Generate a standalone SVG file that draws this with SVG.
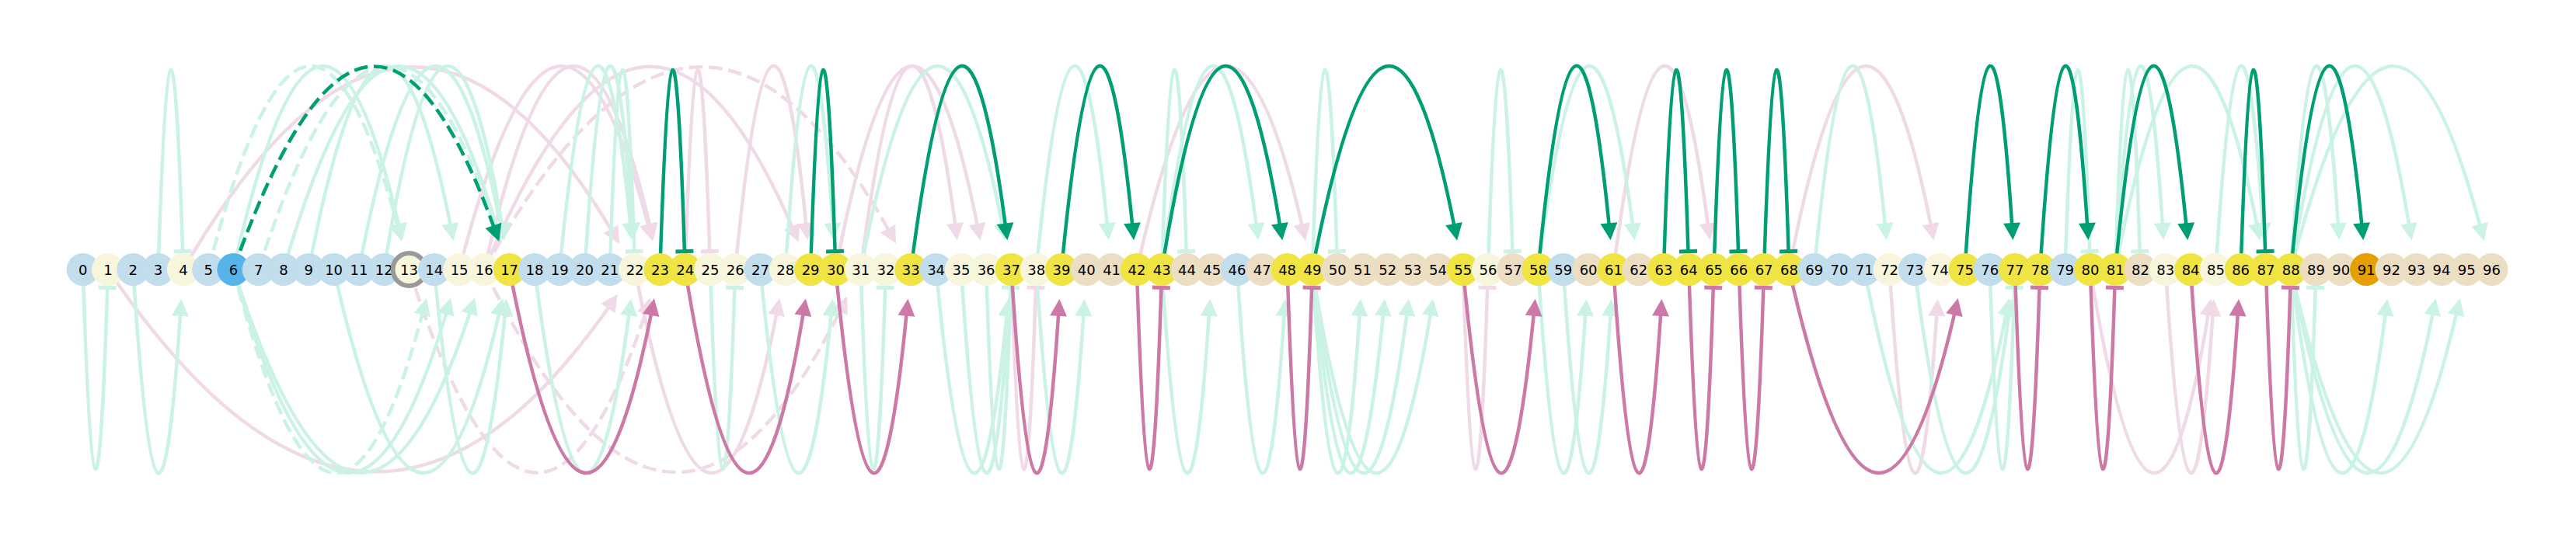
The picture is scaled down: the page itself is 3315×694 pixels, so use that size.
<svg xmlns="http://www.w3.org/2000/svg" width="3315" height="694" viewBox="0 0 3315 694">
<style>
path.e{fill:none;stroke-width:4.5}
.ga{stroke:#009E73;stroke-width:4.8;marker-end:url(#aG)}
.gt{stroke:#009E73;stroke-width:4.8;marker-end:url(#tG)}
.pa{stroke:#CC79A7;stroke-width:4.8;marker-end:url(#aP)}
.pt{stroke:#CC79A7;stroke-width:4.8;marker-end:url(#tP)}
.fga{stroke:#CAF2E5;marker-end:url(#aGF)}
.fgt{stroke:#CAF2E5;marker-end:url(#tGF)}
.fpa{stroke:#F0DAE7;marker-end:url(#aPF)}
.fpt{stroke:#F0DAE7;marker-end:url(#tPF)}
.d{stroke-dasharray:17.8 7.7}
.lb{fill:#C2DDEC}.cr{fill:#F7F6DC}.ye{fill:#F0E442}.tn{fill:#ECDEC3}
text{font-family:"DejaVu Sans",sans-serif;font-size:18px;text-anchor:middle;fill:#000}
</style>
<defs>
<marker id="aG" markerUnits="userSpaceOnUse" orient="auto" overflow="visible" markerWidth="1" markerHeight="1"><path d="M5,0 L-17,-11 L-17,11 Z" fill="#009E73"/></marker>
<marker id="aP" markerUnits="userSpaceOnUse" orient="auto" overflow="visible" markerWidth="1" markerHeight="1"><path d="M5,0 L-17,-11 L-17,11 Z" fill="#CC79A7"/></marker>
<marker id="aGF" markerUnits="userSpaceOnUse" orient="auto" overflow="visible" markerWidth="1" markerHeight="1"><path d="M5,0 L-17,-11 L-17,11 Z" fill="#CAF2E5"/></marker>
<marker id="aPF" markerUnits="userSpaceOnUse" orient="auto" overflow="visible" markerWidth="1" markerHeight="1"><path d="M5,0 L-17,-11 L-17,11 Z" fill="#F0DAE7"/></marker>
<marker id="tG" markerUnits="userSpaceOnUse" orient="auto" overflow="visible" markerWidth="1" markerHeight="1"><path d="M-2.5,-11.5 H2.5 V11.5 H-2.5 Z" fill="#009E73"/></marker>
<marker id="tP" markerUnits="userSpaceOnUse" orient="auto" overflow="visible" markerWidth="1" markerHeight="1"><path d="M-2.5,-11.5 H2.5 V11.5 H-2.5 Z" fill="#CC79A7"/></marker>
<marker id="tGF" markerUnits="userSpaceOnUse" orient="auto" overflow="visible" markerWidth="1" markerHeight="1"><path d="M-2.5,-11.5 H2.5 V11.5 H-2.5 Z" fill="#CAF2E5"/></marker>
<marker id="tPF" markerUnits="userSpaceOnUse" orient="auto" overflow="visible" markerWidth="1" markerHeight="1"><path d="M-2.5,-11.5 H2.5 V11.5 H-2.5 Z" fill="#F0DAE7"/></marker>
</defs>
<rect width="3315" height="694" fill="#fff"/>
<g id="edges">
<g id="faded-pink">
<path class="e fpa" d="M139,347 Q478.1,849 791.9,382.9"/>
<path class="e fpa" d="M235.9,347 Q526.5,-155 794.6,309.6"/>
<path class="e fpa" d="M591.1,347 Q720.3,-155 838.2,305.3"/>
<path class="e fpa" d="M623.3,347 Q736.4,-155 839.5,305"/>
<path class="e fpa d" d="M526.5,347 Q688,849 835.6,388"/>
<path class="e fpa d" d="M623.3,347 Q865.5,849 1088.1,385.9"/>
<path class="e fpt" d="M881.7,347 Q897.9,-155 913.2,323.6"/>
<path class="e fpa" d="M946.2,347 Q994.7,-155 1038.8,304.2"/>
<path class="e fpa" d="M623.3,347 Q833.2,-155 1025.7,307.2"/>
<path class="e fpa d" d="M623.3,347 Q897.8,-155 1150.7,309.1"/>
<path class="e fpa" d="M1107.7,347 Q1172.3,-155 1231.2,304.4"/>
<path class="e fpa" d="M1075.4,347 Q1172.3,-155 1260.6,304.8"/>
<path class="e fpt" d="M1301.4,347 Q1317.6,849 1332.9,370.4"/>
<path class="e fpa" d="M1462.9,347 Q1575.9,-155 1679,305"/>
<path class="e fpa" d="M2076.4,347 Q2141,-155 2199.9,304.4"/>
<path class="e fpa" d="M2302.4,347 Q2399.3,-155 2487.7,304.8"/>
<path class="e fpt" d="M1882.7,347 Q1898.8,849 1914.1,370.4"/>
<path class="e fpa" d="M2431.6,347 Q2463.9,849 2493.3,389.9"/>
<path class="e fpa" d="M2689.9,347 Q2770.7,849 2844.3,389.5"/>
<path class="e fpa" d="M2786.8,347 Q2819.1,849 2848.5,389.9"/>
<path class="e fpa" d="M817.1,347 Q914,849 1002.3,389.2"/>
</g>
<g id="faded-green">
<path class="e fgt" d="M203.6,347 Q219.8,-155 235.1,323.6"/>
<path class="e fgt" d="M106.7,347 Q122.9,849 138.2,370.4"/>
<path class="e fga" d="M171.3,347 Q203.6,849 233,389.9"/>
<path class="e fga d" d="M268.2,347 Q397.4,-155 515.3,305.3"/>
<path class="e fga" d="M300.4,347 Q413.5,-155 516.6,305"/>
<path class="e fga" d="M397.3,347 Q494.2,-155 582.6,304.8"/>
<path class="e fga d" d="M332.7,347 Q494.2,-155 641.8,306"/>
<path class="e fga" d="M365,347 Q510.3,-155 643.1,305.6"/>
<path class="e fga" d="M461.9,347 Q558.8,-155 647.1,304.8"/>
<path class="e fga" d="M494.2,347 Q574.9,-155 648.4,304.5"/>
<path class="e fga" d="M720.2,347 Q768.7,-155 812.8,304.2"/>
<path class="e fga" d="M752.5,347 Q784.8,-155 814.2,304.1"/>
<path class="e fgt" d="M784.8,347 Q801,-155 816.3,323.6"/>
<path class="e fga" d="M300.4,347 Q445.8,849 578.6,388.4"/>
<path class="e fga" d="M300.4,347 Q461.9,849 609.5,388"/>
<path class="e fga d" d="M300.4,347 Q429.6,849 547.6,388.7"/>
<path class="e fga" d="M429.6,347 Q542.6,849 645.7,389"/>
<path class="e fga" d="M558.8,347 Q607.2,849 651.3,389.8"/>
<path class="e fga" d="M687.9,347 Q752.5,849 811.4,389.6"/>
<path class="e fga" d="M1010.8,347 Q1043.1,-155 1072.5,304.1"/>
<path class="e fga" d="M1107.7,347 Q1204.6,-155 1292.9,304.8"/>
<path class="e fga" d="M1333.7,347 Q1382.2,-155 1426.3,304.2"/>
<path class="e fgt" d="M1495.2,347 Q1511.4,-155 1526.7,323.6"/>
<path class="e fga" d="M1495.2,347 Q1559.8,-155 1618.6,304.4"/>
<path class="e fgt" d="M914,347 Q930.1,849 945.4,370.4"/>
<path class="e fga" d="M978.5,347 Q1027,849 1071.1,389.8"/>
<path class="e fgt" d="M1107.7,347 Q1123.9,849 1139.2,370.4"/>
<path class="e fga" d="M1204.6,347 Q1253,849 1297.1,389.8"/>
<path class="e fga" d="M1236.9,347 Q1269.2,849 1298.5,389.9"/>
<path class="e fgt" d="M1269.1,347 Q1285.3,849 1300.6,370.4"/>
<path class="e fga" d="M1333.7,347 Q1366,849 1395.4,389.9"/>
<path class="e fga" d="M1495.2,347 Q1527.5,849 1556.9,389.9"/>
<path class="e fga" d="M1592,347 Q1624.3,849 1653.7,389.9"/>
<path class="e fgt" d="M1688.9,347 Q1705.1,-155 1720.4,323.6"/>
<path class="e fgt" d="M1914.9,347 Q1931.1,-155 1946.4,323.6"/>
<path class="e fga" d="M1979.5,347 Q2044.1,-155 2103,304.4"/>
<path class="e fga" d="M2334.7,347 Q2383.2,-155 2427.3,304.2"/>
<path class="e fga" d="M1688.9,347 Q1721.2,849 1750.6,389.9"/>
<path class="e fga" d="M1688.9,347 Q1737.4,849 1781.5,389.8"/>
<path class="e fga" d="M1688.9,347 Q1753.5,849 1812.4,389.6"/>
<path class="e fga" d="M1688.9,347 Q1769.7,849 1843.3,389.5"/>
<path class="e fga" d="M1979.5,347 Q2011.8,849 2041.2,389.9"/>
<path class="e fga" d="M2011.8,347 Q2044.1,849 2073.5,389.9"/>
<path class="e fgt" d="M2657.6,347 Q2673.8,-155 2689.1,323.6"/>
<path class="e fgt" d="M2722.2,347 Q2738.4,-155 2753.7,323.6"/>
<path class="e fga" d="M2722.2,347 Q2754.5,-155 2783.9,304.1"/>
<path class="e fga" d="M2722.2,347 Q2819.1,-155 2907.4,304.8"/>
<path class="e fga" d="M2851.4,347 Q2883.7,-155 2913,304.1"/>
<path class="e fga" d="M2948.2,347 Q2980.5,-155 3009.9,304.1"/>
<path class="e fga" d="M2948.2,347 Q3029,-155 3102.6,304.5"/>
<path class="e fga" d="M2948.2,347 Q3077.4,-155 3195.3,305.3"/>
<path class="e fgt" d="M2560.7,347 Q2576.9,849 2592.2,370.4"/>
<path class="e fgt" d="M2948.2,347 Q2964.4,849 2979.7,370.4"/>
<path class="e fga" d="M2948.2,347 Q3012.8,849 3071.7,389.6"/>
<path class="e fga" d="M2948.2,347 Q3045.1,849 3133.5,389.2"/>
<path class="e fga" d="M2948.2,347 Q3061.3,849 3164.4,389"/>
<path class="e fga" d="M2399.3,347 Q2496.2,849 2584.5,389.2"/>
<path class="e fga" d="M2463.9,347 Q2528.5,849 2587.3,389.6"/>
</g>
<g id="main-path">
<path class="e ga d" d="M300.4,347 Q478,-155 640.6,306.4"/>
<path class="e pa" d="M655.6,347 Q752.5,849 840.9,389.2"/>
<path class="e gt" d="M849.4,347 Q865.6,-155 880.9,323.6"/>
<path class="e pa" d="M881.7,347 Q962.4,849 1036,389.5"/>
<path class="e gt" d="M1043.1,347 Q1059.3,-155 1074.6,323.6"/>
<path class="e pa" d="M1075.4,347 Q1123.9,849 1168,389.8"/>
<path class="e ga" d="M1172.3,347 Q1236.9,-155 1295.7,304.4"/>
<path class="e pa" d="M1301.4,347 Q1333.7,849 1363.1,389.9"/>
<path class="e ga" d="M1366,347 Q1414.5,-155 1458.6,304.2"/>
<path class="e pt" d="M1462.9,347 Q1479.1,849 1494.4,370.4"/>
<path class="e ga" d="M1495.2,347 Q1575.9,-155 1649.5,304.5"/>
<path class="e pt" d="M1656.6,347 Q1672.8,849 1688.1,370.4"/>
<path class="e ga" d="M1688.9,347 Q1785.8,-155 1874.2,304.8"/>
<path class="e pa" d="M1882.7,347 Q1931.1,849 1975.2,389.8"/>
<path class="e ga" d="M1979.5,347 Q2028,-155 2072.1,304.2"/>
<path class="e pa" d="M2076.4,347 Q2108.7,849 2138.1,389.9"/>
<path class="e gt" d="M2141,347 Q2157.2,-155 2172.5,323.6"/>
<path class="e pt" d="M2173.3,347 Q2189.5,849 2204.8,370.4"/>
<path class="e gt" d="M2205.6,347 Q2221.7,-155 2237,323.6"/>
<path class="e pt" d="M2237.8,347 Q2254,849 2269.3,370.4"/>
<path class="e gt" d="M2270.1,347 Q2286.3,-155 2301.6,323.6"/>
<path class="e pa" d="M2302.4,347 Q2415.5,849 2518.6,389"/>
<path class="e ga" d="M2528.5,347 Q2560.8,-155 2590.1,304.1"/>
<path class="e pt" d="M2593,347 Q2609.2,849 2624.5,370.4"/>
<path class="e ga" d="M2625.3,347 Q2657.6,-155 2687,304.1"/>
<path class="e pt" d="M2689.9,347 Q2706.1,849 2721.4,370.4"/>
<path class="e ga" d="M2722.2,347 Q2770.7,-155 2814.8,304.2"/>
<path class="e pa" d="M2819.1,347 Q2851.4,849 2880.7,389.9"/>
<path class="e gt" d="M2883.6,347 Q2899.8,-155 2915.1,323.6"/>
<path class="e pt" d="M2915.9,347 Q2932.1,849 2947.4,370.4"/>
<path class="e ga" d="M2948.2,347 Q2996.7,-155 3040.8,304.2"/>
</g>
</g>
<g id="nodes">
<g id="n0"><circle class="lb" cx="106.7" cy="347" r="21"/><text x="106.7" y="353.5">0</text></g>
<g id="n1"><circle class="cr" cx="139" cy="347" r="21"/><text x="139" y="353.5">1</text></g>
<g id="n2"><circle class="lb" cx="171.3" cy="347" r="21"/><text x="171.3" y="353.5">2</text></g>
<g id="n3"><circle class="lb" cx="203.6" cy="347" r="21"/><text x="203.6" y="353.5">3</text></g>
<g id="n4"><circle class="cr" cx="235.9" cy="347" r="21"/><text x="235.9" y="353.5">4</text></g>
<g id="n5"><circle class="lb" cx="268.2" cy="347" r="21"/><text x="268.2" y="353.5">5</text></g>
<g id="n6"><circle fill="#56B4E9" cx="300.4" cy="347" r="21"/><text x="300.4" y="353.5">6</text></g>
<g id="n7"><circle class="lb" cx="332.7" cy="347" r="21"/><text x="332.7" y="353.5">7</text></g>
<g id="n8"><circle class="lb" cx="365" cy="347" r="21"/><text x="365" y="353.5">8</text></g>
<g id="n9"><circle class="lb" cx="397.3" cy="347" r="21"/><text x="397.3" y="353.5">9</text></g>
<g id="n10"><circle class="lb" cx="429.6" cy="347" r="21"/><text x="429.6" y="353.5">10</text></g>
<g id="n11"><circle class="lb" cx="461.9" cy="347" r="21"/><text x="461.9" y="353.5">11</text></g>
<g id="n12"><circle class="lb" cx="494.2" cy="347" r="21"/><text x="494.2" y="353.5">12</text></g>
<g id="n13"><circle class="cr" cx="526.5" cy="347" r="21" stroke="#999999" stroke-width="6"/><text x="526.5" y="353.5">13</text></g>
<g id="n14"><circle class="lb" cx="558.8" cy="347" r="21"/><text x="558.8" y="353.5">14</text></g>
<g id="n15"><circle class="cr" cx="591.1" cy="347" r="21"/><text x="591.1" y="353.5">15</text></g>
<g id="n16"><circle class="cr" cx="623.3" cy="347" r="21"/><text x="623.3" y="353.5">16</text></g>
<g id="n17"><circle class="ye" cx="655.6" cy="347" r="21"/><text x="655.6" y="353.5">17</text></g>
<g id="n18"><circle class="lb" cx="687.9" cy="347" r="21"/><text x="687.9" y="353.5">18</text></g>
<g id="n19"><circle class="lb" cx="720.2" cy="347" r="21"/><text x="720.2" y="353.5">19</text></g>
<g id="n20"><circle class="lb" cx="752.5" cy="347" r="21"/><text x="752.5" y="353.5">20</text></g>
<g id="n21"><circle class="lb" cx="784.8" cy="347" r="21"/><text x="784.8" y="353.5">21</text></g>
<g id="n22"><circle class="cr" cx="817.1" cy="347" r="21"/><text x="817.1" y="353.5">22</text></g>
<g id="n23"><circle class="ye" cx="849.4" cy="347" r="21"/><text x="849.4" y="353.5">23</text></g>
<g id="n24"><circle class="ye" cx="881.7" cy="347" r="21"/><text x="881.7" y="353.5">24</text></g>
<g id="n25"><circle class="cr" cx="914" cy="347" r="21"/><text x="914" y="353.5">25</text></g>
<g id="n26"><circle class="cr" cx="946.2" cy="347" r="21"/><text x="946.2" y="353.5">26</text></g>
<g id="n27"><circle class="lb" cx="978.5" cy="347" r="21"/><text x="978.5" y="353.5">27</text></g>
<g id="n28"><circle class="cr" cx="1010.8" cy="347" r="21"/><text x="1010.8" y="353.5">28</text></g>
<g id="n29"><circle class="ye" cx="1043.1" cy="347" r="21"/><text x="1043.1" y="353.5">29</text></g>
<g id="n30"><circle class="ye" cx="1075.4" cy="347" r="21"/><text x="1075.4" y="353.5">30</text></g>
<g id="n31"><circle class="cr" cx="1107.7" cy="347" r="21"/><text x="1107.7" y="353.5">31</text></g>
<g id="n32"><circle class="cr" cx="1140" cy="347" r="21"/><text x="1140" y="353.5">32</text></g>
<g id="n33"><circle class="ye" cx="1172.3" cy="347" r="21"/><text x="1172.3" y="353.5">33</text></g>
<g id="n34"><circle class="lb" cx="1204.6" cy="347" r="21"/><text x="1204.6" y="353.5">34</text></g>
<g id="n35"><circle class="cr" cx="1236.9" cy="347" r="21"/><text x="1236.9" y="353.5">35</text></g>
<g id="n36"><circle class="cr" cx="1269.1" cy="347" r="21"/><text x="1269.1" y="353.5">36</text></g>
<g id="n37"><circle class="ye" cx="1301.4" cy="347" r="21"/><text x="1301.4" y="353.5">37</text></g>
<g id="n38"><circle class="cr" cx="1333.7" cy="347" r="21"/><text x="1333.7" y="353.5">38</text></g>
<g id="n39"><circle class="ye" cx="1366" cy="347" r="21"/><text x="1366" y="353.5">39</text></g>
<g id="n40"><circle class="tn" cx="1398.3" cy="347" r="21"/><text x="1398.3" y="353.5">40</text></g>
<g id="n41"><circle class="tn" cx="1430.6" cy="347" r="21"/><text x="1430.6" y="353.5">41</text></g>
<g id="n42"><circle class="ye" cx="1462.9" cy="347" r="21"/><text x="1462.9" y="353.5">42</text></g>
<g id="n43"><circle class="ye" cx="1495.2" cy="347" r="21"/><text x="1495.2" y="353.5">43</text></g>
<g id="n44"><circle class="tn" cx="1527.5" cy="347" r="21"/><text x="1527.5" y="353.5">44</text></g>
<g id="n45"><circle class="tn" cx="1559.8" cy="347" r="21"/><text x="1559.8" y="353.5">45</text></g>
<g id="n46"><circle class="lb" cx="1592" cy="347" r="21"/><text x="1592" y="353.5">46</text></g>
<g id="n47"><circle class="tn" cx="1624.3" cy="347" r="21"/><text x="1624.3" y="353.5">47</text></g>
<g id="n48"><circle class="ye" cx="1656.6" cy="347" r="21"/><text x="1656.6" y="353.5">48</text></g>
<g id="n49"><circle class="ye" cx="1688.9" cy="347" r="21"/><text x="1688.9" y="353.5">49</text></g>
<g id="n50"><circle class="tn" cx="1721.2" cy="347" r="21"/><text x="1721.2" y="353.5">50</text></g>
<g id="n51"><circle class="tn" cx="1753.5" cy="347" r="21"/><text x="1753.5" y="353.5">51</text></g>
<g id="n52"><circle class="tn" cx="1785.8" cy="347" r="21"/><text x="1785.8" y="353.5">52</text></g>
<g id="n53"><circle class="tn" cx="1818.1" cy="347" r="21"/><text x="1818.1" y="353.5">53</text></g>
<g id="n54"><circle class="tn" cx="1850.4" cy="347" r="21"/><text x="1850.4" y="353.5">54</text></g>
<g id="n55"><circle class="ye" cx="1882.7" cy="347" r="21"/><text x="1882.7" y="353.5">55</text></g>
<g id="n56"><circle class="cr" cx="1914.9" cy="347" r="21"/><text x="1914.9" y="353.5">56</text></g>
<g id="n57"><circle class="tn" cx="1947.2" cy="347" r="21"/><text x="1947.2" y="353.5">57</text></g>
<g id="n58"><circle class="ye" cx="1979.5" cy="347" r="21"/><text x="1979.5" y="353.5">58</text></g>
<g id="n59"><circle class="lb" cx="2011.8" cy="347" r="21"/><text x="2011.8" y="353.5">59</text></g>
<g id="n60"><circle class="tn" cx="2044.1" cy="347" r="21"/><text x="2044.1" y="353.5">60</text></g>
<g id="n61"><circle class="ye" cx="2076.4" cy="347" r="21"/><text x="2076.4" y="353.5">61</text></g>
<g id="n62"><circle class="tn" cx="2108.7" cy="347" r="21"/><text x="2108.7" y="353.5">62</text></g>
<g id="n63"><circle class="ye" cx="2141" cy="347" r="21"/><text x="2141" y="353.5">63</text></g>
<g id="n64"><circle class="ye" cx="2173.3" cy="347" r="21"/><text x="2173.3" y="353.5">64</text></g>
<g id="n65"><circle class="ye" cx="2205.6" cy="347" r="21"/><text x="2205.6" y="353.5">65</text></g>
<g id="n66"><circle class="ye" cx="2237.8" cy="347" r="21"/><text x="2237.8" y="353.5">66</text></g>
<g id="n67"><circle class="ye" cx="2270.1" cy="347" r="21"/><text x="2270.1" y="353.5">67</text></g>
<g id="n68"><circle class="ye" cx="2302.4" cy="347" r="21"/><text x="2302.4" y="353.5">68</text></g>
<g id="n69"><circle class="lb" cx="2334.7" cy="347" r="21"/><text x="2334.7" y="353.5">69</text></g>
<g id="n70"><circle class="lb" cx="2367" cy="347" r="21"/><text x="2367" y="353.5">70</text></g>
<g id="n71"><circle class="lb" cx="2399.3" cy="347" r="21"/><text x="2399.3" y="353.5">71</text></g>
<g id="n72"><circle class="cr" cx="2431.6" cy="347" r="21"/><text x="2431.6" y="353.5">72</text></g>
<g id="n73"><circle class="lb" cx="2463.9" cy="347" r="21"/><text x="2463.9" y="353.5">73</text></g>
<g id="n74"><circle class="cr" cx="2496.2" cy="347" r="21"/><text x="2496.2" y="353.5">74</text></g>
<g id="n75"><circle class="ye" cx="2528.5" cy="347" r="21"/><text x="2528.5" y="353.5">75</text></g>
<g id="n76"><circle class="lb" cx="2560.7" cy="347" r="21"/><text x="2560.7" y="353.5">76</text></g>
<g id="n77"><circle class="ye" cx="2593" cy="347" r="21"/><text x="2593" y="353.5">77</text></g>
<g id="n78"><circle class="ye" cx="2625.3" cy="347" r="21"/><text x="2625.3" y="353.5">78</text></g>
<g id="n79"><circle class="lb" cx="2657.6" cy="347" r="21"/><text x="2657.6" y="353.5">79</text></g>
<g id="n80"><circle class="ye" cx="2689.9" cy="347" r="21"/><text x="2689.9" y="353.5">80</text></g>
<g id="n81"><circle class="ye" cx="2722.2" cy="347" r="21"/><text x="2722.2" y="353.5">81</text></g>
<g id="n82"><circle class="tn" cx="2754.5" cy="347" r="21"/><text x="2754.5" y="353.5">82</text></g>
<g id="n83"><circle class="cr" cx="2786.8" cy="347" r="21"/><text x="2786.8" y="353.5">83</text></g>
<g id="n84"><circle class="ye" cx="2819.1" cy="347" r="21"/><text x="2819.1" y="353.5">84</text></g>
<g id="n85"><circle class="cr" cx="2851.4" cy="347" r="21"/><text x="2851.4" y="353.5">85</text></g>
<g id="n86"><circle class="ye" cx="2883.6" cy="347" r="21"/><text x="2883.6" y="353.5">86</text></g>
<g id="n87"><circle class="ye" cx="2915.9" cy="347" r="21"/><text x="2915.9" y="353.5">87</text></g>
<g id="n88"><circle class="ye" cx="2948.2" cy="347" r="21"/><text x="2948.2" y="353.5">88</text></g>
<g id="n89"><circle class="tn" cx="2980.5" cy="347" r="21"/><text x="2980.5" y="353.5">89</text></g>
<g id="n90"><circle class="tn" cx="3012.8" cy="347" r="21"/><text x="3012.8" y="353.5">90</text></g>
<g id="n91"><circle fill="#E69F00" cx="3045.1" cy="347" r="21"/><text x="3045.1" y="353.5">91</text></g>
<g id="n92"><circle class="tn" cx="3077.4" cy="347" r="21"/><text x="3077.4" y="353.5">92</text></g>
<g id="n93"><circle class="tn" cx="3109.7" cy="347" r="21"/><text x="3109.7" y="353.5">93</text></g>
<g id="n94"><circle class="tn" cx="3142" cy="347" r="21"/><text x="3142" y="353.5">94</text></g>
<g id="n95"><circle class="tn" cx="3174.3" cy="347" r="21"/><text x="3174.3" y="353.5">95</text></g>
<g id="n96"><circle class="tn" cx="3206.5" cy="347" r="21"/><text x="3206.5" y="353.5">96</text></g>
</g>
</svg>
